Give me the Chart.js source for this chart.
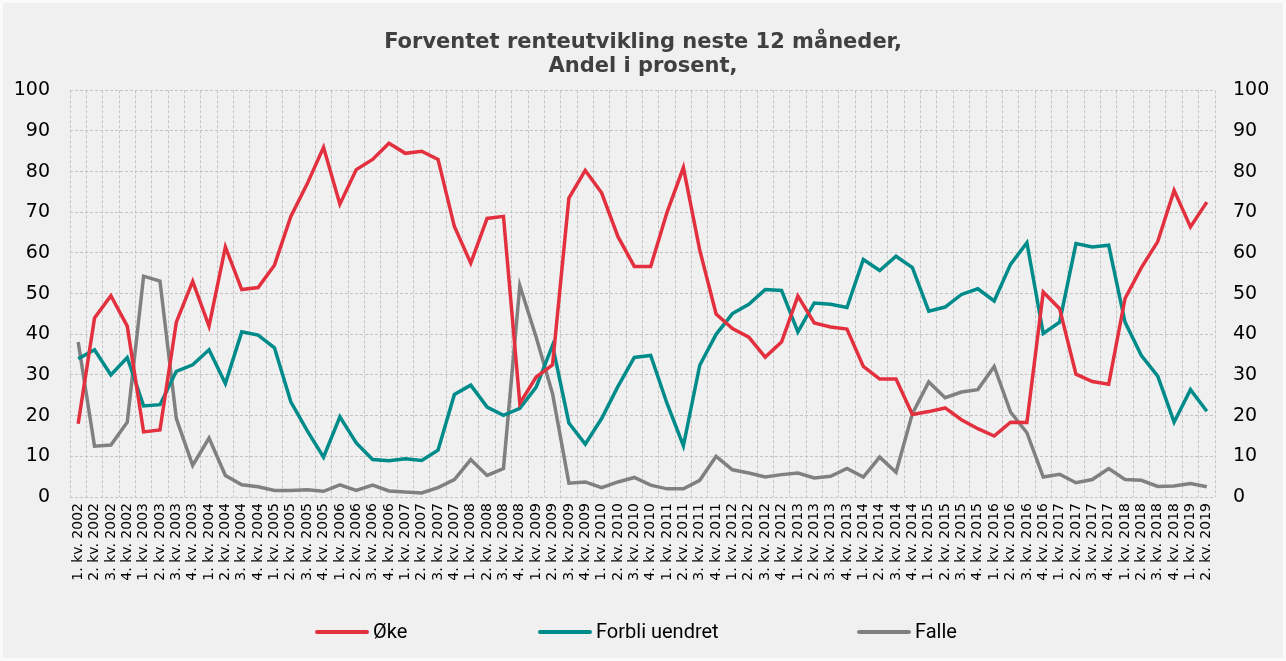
<!DOCTYPE html>
<html>
<head>
<meta charset="utf-8">
<script src="https://cdn.jsdelivr.net/npm/chart.js@4/dist/chart.umd.min.js"></script>
<style>
  html, body { margin: 0; padding: 0; background: #fafafa; }
  #wrap { position: absolute; left: 3px; top: 3px; width: 1280px; height: 655px; background: #f0f0f0; }
</style>
</head>
<body>
<div id="wrap"><canvas id="chart" width="1280" height="655"></canvas></div>
<script>
// quarters 1. kv. 2002 .. 2. kv. 2019
const labels = [];
for (let y = 2002; y <= 2019; y++) {
    for (let q = 1; q <= 4; q++) {
        if (y === 2019 && q > 2) break;
        labels.push(q + '. kv. ' + y);
    }
}

// Share of respondents (%)
const oke = [18, 44, 49.5, 42, 16, 16.5, 43, 53, 42, 61.5, 51, 51.5,
    57, 69, 77, 86, 72, 80.5, 83, 87, 84.5, 85, 83, 66.5,
    57.5, 68.5, 69, 23, 29.5, 32.5, 73.5, 80.3, 74.8, 64, 56.7, 56.7,
    70, 81, 60.7, 45, 41.4, 39.3, 34.4, 38.1, 49.4, 42.8, 41.8, 41.3,
    32.1, 29, 29, 20.3, 21, 21.9, 19, 16.8, 15, 18.4, 18.3, 50.4,
    46.3, 30.2, 28.4, 27.7, 48.8, 56.4, 62.8, 75.4, 66.4, 72.5];
const uendret = [34, 36.2, 30, 34.3, 22.4, 22.7, 30.9, 32.5, 36.2, 27.9, 40.6, 39.8,
    36.7, 23.4, 16.3, 9.8, 19.7, 13.3, 9.2, 8.9, 9.4, 9, 11.5, 25.2,
    27.5, 22.1, 20.1, 21.8, 27, 37.3, 18.2, 13, 19.3, 27.2, 34.3, 34.8,
    23, 12.6, 32.4, 40, 45.1, 47.4, 51, 50.8, 40.6, 47.7, 47.4, 46.6,
    58.4, 55.7, 59.2, 56.4, 45.7, 46.7, 49.8, 51.2, 48.2, 57.2, 62.5, 40.2,
    43, 62.3, 61.5, 61.9, 43, 34.8, 29.7, 18.4, 26.4, 21.1];
const falle = [38.1, 12.5, 12.8, 18.4, 54.3, 53.1, 19.3, 7.8, 14.5, 5.3, 3, 2.5,
    1.6, 1.6, 1.8, 1.4, 3, 1.6, 2.9, 1.5, 1.2, 1, 2.3, 4.3,
    9.2, 5.3, 7, 52, 39.3, 25.4, 3.4, 3.7, 2.3, 3.7, 4.8, 2.9,
    2, 2, 4.1, 10, 6.7, 5.9, 4.9, 5.5, 5.9, 4.7, 5.1, 7,
    4.9, 9.8, 6.1, 20.5, 28.3, 24.4, 25.8, 26.4, 32.1, 20.9, 15.8, 4.9,
    5.6, 3.5, 4.3, 7, 4.3, 4.1, 2.6, 2.7, 3.3, 2.5];

const verdana = '"DejaVu Sans", Verdana, sans-serif';
const tickFont = { family: verdana, size: 19 };
const gridStyle = { color: '#c4c4c4', lineWidth: 1, drawTicks: false };

function line(label, data, color) {
    return {
        label: label,
        data: data,
        borderColor: color,
        backgroundColor: color,
        borderWidth: 3.5,
        pointRadius: 0,
        tension: 0,
        fill: false
    };
}

// Excel-style legend under the axis, items placed like the original
const legendX = [312, 535, 854];
const bottomLegend = {
    id: 'bottomLegend',
    afterDraw(chart) {
        const ctx = chart.ctx;
        const y = 629;
        ctx.save();
        ctx.font = '20px Roboto, "Liberation Sans", sans-serif';
        ctx.textBaseline = 'middle';
        chart.data.datasets.forEach((ds, i) => {
            const x = legendX[i];
            ctx.strokeStyle = ds.borderColor;
            ctx.lineWidth = 4;
            ctx.lineCap = 'round';
            ctx.beginPath();
            ctx.moveTo(x + 2, y);
            ctx.lineTo(x + 52, y);
            ctx.stroke();
            ctx.fillStyle = '#000';
            ctx.fillText(ds.label, x + 58, y + 1);
        });
        ctx.restore();
    }
};

new Chart(document.getElementById('chart'), {
    type: 'line',
    data: {
        labels: labels,
        datasets: [
            line('Øke', oke, '#e3303f'),
            line('Forbli uendret', uendret, '#008b8b'),
            line('Falle', falle, '#808080')
        ]
    },
    options: {
        responsive: false,
        animation: false,
        layout: { padding: { left: 0, right: 0, top: 0, bottom: 65 } },
        scales: {
            x: {
                offset: true,
                grid: { ...gridStyle, offset: true },
                border: { display: false, dash: [3, 2] },
                ticks: {
                    autoSkip: false,
                    minRotation: 90,
                    maxRotation: 90,
                    padding: 6,
                    color: '#000',
                    font: { family: verdana, size: 14 }
                },
                afterFit: (s) => { s.height = 96; }
            },
            y: {
                position: 'left',
                min: 0,
                max: 100,
                grid: gridStyle,
                border: { display: false, dash: [3, 2] },
                ticks: { stepSize: 10, padding: 20, color: '#000', font: tickFont },
                afterFit: (s) => { s.width = 67; }
            },
            y2: {
                position: 'right',
                min: 0,
                max: 100,
                grid: { drawOnChartArea: false, drawTicks: false },
                border: { display: false },
                ticks: { stepSize: 10, padding: 18, color: '#000', font: tickFont },
                afterFit: (s) => { s.width = 68; }
            }
        },
        plugins: {
            title: {
                display: true,
                text: ['Forventet renteutvikling neste 12 måneder,', 'Andel i prosent,'],
                color: '#404040',
                font: { family: verdana, size: 21, weight: 'bold', lineHeight: 1.15 },
                padding: { top: 27, bottom: 12 }
            },
            legend: { display: false },
            tooltip: { enabled: false }
        }
    },
    plugins: [bottomLegend]
});
</script>
</body>
</html>
